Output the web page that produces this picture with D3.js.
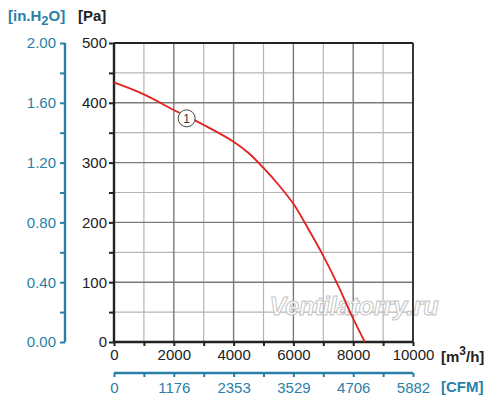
<!DOCTYPE html>
<html><head><meta charset="utf-8">
<script src="https://cdn.jsdelivr.net/npm/d3@7"></script>
<style>body{margin:0;background:#fff}svg{display:block;font-family:"Liberation Sans",Arial,sans-serif}</style>
</head><body><svg id="c" width="500" height="413"></svg>
<script>
// data
const flow = [0, 1000, 2000, 3000, 4000, 4500, 5000, 5500, 6000, 6500, 7000, 7500, 8000, 8390];
const pressure = [434, 414, 388, 363, 335, 316, 291, 263, 231, 189, 144, 94, 39, 0];
const flowTicks = [0, 2000, 4000, 6000, 8000, 10000];
const cfmTicks = [0, 1176, 2353, 3529, 4706, 5882];
const paTicks = [0, 100, 200, 300, 400, 500];
const inTicks = [0, 0.4, 0.8, 1.2, 1.6, 2.0];
const curveLabel = ["1"];
const curveLabelAt = [2430, 374];

const blue = "#2a7fa9";
const svg = d3.select("#c");
const x = d3.scaleLinear([0, 10000], [114, 413]);
const y = d3.scaleLinear([0, 500], [342, 43]);
const xc = d3.scaleLinear([0, 5882], [114, 413]);
const yi = d3.scaleLinear([0, 2], [342, 43]);
const FS = 15;

// grid
const g = svg.append("g");
const minorX = d3.range(1000, 10000, 2000), majorX = d3.range(2000, 10000, 2000);
const minorY = d3.range(50, 500, 100), majorY = d3.range(100, 500, 100);
g.selectAll(".mx").data(minorX).join("line").attr("x1", d => x(d)).attr("x2", d => x(d)).attr("y1", y(0)).attr("y2", y(500)).attr("stroke", "#b5b5b5").attr("stroke-width", 1.2);
g.selectAll(".my").data(minorY).join("line").attr("y1", d => y(d)).attr("y2", d => y(d)).attr("x1", x(0)).attr("x2", x(10000)).attr("stroke", "#b5b5b5").attr("stroke-width", 1.2);
g.selectAll(".Mx").data(majorX).join("line").attr("x1", d => x(d)).attr("x2", d => x(d)).attr("y1", y(0)).attr("y2", y(500)).attr("stroke", "#7a7a7a").attr("stroke-width", 1.4);
g.selectAll(".My").data(majorY).join("line").attr("y1", d => y(d)).attr("y2", d => y(d)).attr("x1", x(0)).attr("x2", x(10000)).attr("stroke", "#7a7a7a").attr("stroke-width", 1.4);

// watermark
svg.append("text").attr("x", 354).attr("y", 315).attr("text-anchor", "middle")
  .attr("font-size", 25).attr("font-style", "italic").attr("font-weight", "bold").attr("fill", "#fff")
  .attr("stroke", "#c0c0c0").attr("stroke-width", 1).attr("opacity", 0.9).text("Ventilatorry.ru");

// border
svg.append("line").attr("x1", x(0)).attr("x2", x(10000)).attr("y1", y(500)).attr("y2", y(500)).attr("stroke", "#222").attr("stroke-width", 1.8);
svg.append("line").attr("x1", x(10000)).attr("x2", x(10000)).attr("y1", y(500)).attr("y2", y(0)).attr("stroke", "#222").attr("stroke-width", 1.8);

// black axes
const ax = svg.append("g").attr("transform", `translate(0,${y(0)})`)
  .call(d3.axisBottom(x).tickValues(d3.range(0, 10001, 1000)).tickSize(4).tickFormat(d => flowTicks.includes(d) ? d : ""));
const ay = svg.append("g").attr("transform", `translate(${x(0)},0)`)
  .call(d3.axisLeft(y).tickValues(d3.range(0, 501, 50)).tickSize(5).tickFormat(d => paTicks.includes(d) ? d : ""));
[ax, ay].forEach(a => {
  a.attr("font-size", FS);
  a.select(".domain").attr("stroke", "#222").attr("stroke-width", 2.4);
  a.selectAll(".tick line").attr("stroke", "#222").attr("stroke-width", 2);
  a.selectAll("text").attr("fill", "#222").attr("font-size", FS).attr("font-family", "Liberation Sans, Arial, sans-serif");
});
ax.selectAll("text").attr("dy", "0.9em").attr("y", 4);
ay.selectAll("text").attr("x", -7);
ax.select(".domain").attr("d", `M${x(0)},0H${x(10000)}`);
ay.select(".domain").attr("d", `M0,${y(0)}V${y(500)}`);

// blue axes
const bx = svg.append("g").attr("transform", "translate(0,373)")
  .call(d3.axisBottom(xc).tickValues(cfmTicks.concat(d3.range(5).map(i => (cfmTicks[i] + cfmTicks[i + 1]) / 2))).tickSize(4).tickFormat(d => cfmTicks.includes(d) ? d : ""));
const by = svg.append("g").attr("transform", "translate(65,0)")
  .call(d3.axisLeft(yi).tickValues(d3.range(0, 2.001, 0.2)).tickSize(5).tickFormat(d => inTicks.some(t => Math.abs(t - d) < 1e-6) ? d3.format(".2f")(d) : ""));
[bx, by].forEach(a => {
  a.attr("font-size", FS);
  a.select(".domain").attr("stroke", blue).attr("stroke-width", 2.4);
  a.selectAll(".tick line").attr("stroke", blue).attr("stroke-width", 2);
  a.selectAll("text").attr("fill", blue).attr("font-size", FS).attr("font-family", "Liberation Sans, Arial, sans-serif");
});
bx.select(".domain").attr("d", `M${xc(0)},0H${xc(5882)}`);
by.select(".domain").attr("d", `M0,${yi(0)}V${yi(2)}`);
bx.selectAll("text").attr("y", 9);
by.selectAll("text").attr("x", -9);

// curve
const pts = flow.map((f, i) => [f, pressure[i]]);
svg.append("path").datum(pts).attr("fill", "none").attr("stroke", "#e3211c").attr("stroke-width", 1.8)
  .attr("d", d3.line().x(d => x(d[0])).y(d => y(d[1])).curve(d3.curveCatmullRom.alpha(0.5)));

// curve label
const lg = svg.append("g").attr("transform", `translate(${x(curveLabelAt[0])},${y(curveLabelAt[1])})`);
lg.append("circle").attr("r", 8.5).attr("fill", "#fff").attr("stroke", "#444").attr("stroke-width", 1);
lg.append("text").attr("text-anchor", "middle").attr("dy", "0.36em").attr("font-size", 12).attr("fill", "#333").text(curveLabel[0]);

// titles
const t1 = svg.append("text").attr("x", 8).attr("y", 21).attr("fill", blue).attr("font-size", 15).attr("font-weight", "bold");
t1.append("tspan").text("[in.H");
t1.append("tspan").attr("dy", 4).attr("font-size", 13).text("2");
t1.append("tspan").attr("dy", -4).text("O]");
svg.append("text").attr("x", 78).attr("y", 21).attr("fill", "#222").attr("font-size", 15).attr("font-weight", "bold").text("[Pa]");
const t3 = svg.append("text").attr("x", 441).attr("y", 362).attr("fill", "#222").attr("font-size", 15).attr("font-weight", "bold");
t3.append("tspan").text("[m");
t3.append("tspan").attr("dy", -7).attr("font-size", 12).text("3");
t3.append("tspan").attr("dy", 7).text("/h]");
svg.append("text").attr("x", 441).attr("y", 392).attr("fill", blue).attr("font-size", 15).attr("font-weight", "bold").text("[CFM]");
</script></body></html>
